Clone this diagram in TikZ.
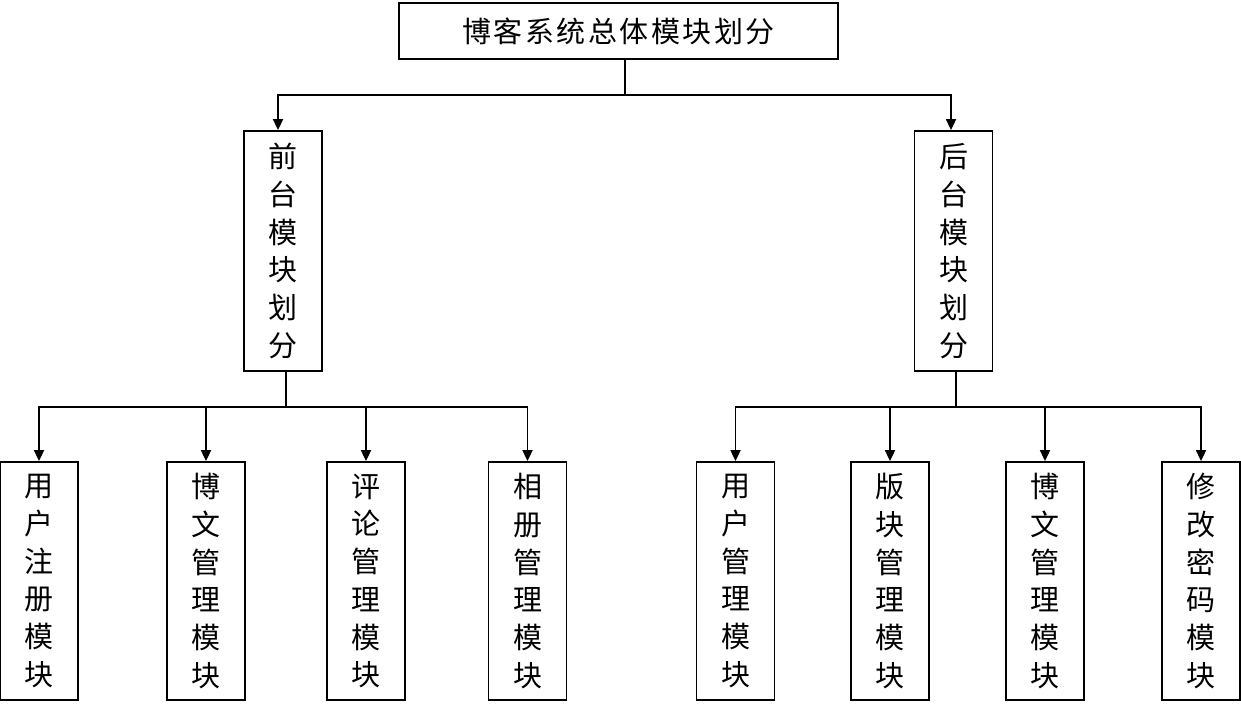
\documentclass[tikz,border=0pt]{standalone}
\usepackage{fontspec}
\setmainfont{Noto Sans CJK SC}
\usetikzlibrary{arrows.meta}
\tikzset{
  box/.style={draw, line width=1.8pt, inner sep=0pt, align=center,
    font=\fontsize{29}{37.7}\selectfont},
  vbox/.style={box, minimum width=78pt},
  conn/.style={line width=1.8pt},
  arr/.style={conn, -{Triangle[width=10pt,length=11pt]}}
}
\begin{document}
\begin{tikzpicture}[x=1pt,y=-1pt]
\useasboundingbox (0,0) rectangle (1241,708);
\node[box, minimum width=439pt, minimum height=56pt] (top) at (618.5,31)
  {博\kern2.5pt 客\kern2.5pt 系\kern2.5pt 统\kern2.5pt 总\kern2.5pt 体\kern2.5pt 模\kern2.5pt 块\kern2.5pt 划\kern2.5pt 分};
\node[vbox, minimum height=240pt] (ml) at (283,251) {前\\台\\模\\块\\划\\分};
\node[vbox, minimum height=240pt] (mr) at (953.5,251) {后\\台\\模\\块\\划\\分};
\node[vbox, minimum height=238pt] (b1) at (39,581) {用\\户\\注\\册\\模\\块};
\node[vbox, minimum height=238pt] (b2) at (206,581) {博\\文\\管\\理\\模\\块};
\node[vbox, minimum height=238pt] (b3) at (366,581) {评\\论\\管\\理\\模\\块};
\node[vbox, minimum height=238pt] (b4) at (527.5,581) {相\\册\\管\\理\\模\\块};
\node[vbox, minimum height=238pt] (b5) at (735.5,581) {用\\户\\管\\理\\模\\块};
\node[vbox, minimum height=238pt] (b6) at (890,581) {版\\块\\管\\理\\模\\块};
\node[vbox, minimum height=238pt] (b7) at (1045,581) {博\\文\\管\\理\\模\\块};
\node[vbox, minimum height=238pt] (b8) at (1201,581) {修\\改\\密\\码\\模\\块};
% top level
\coordinate (tj) at ([xshift=6.5pt]top.south);
\coordinate (th) at (625,95);
\draw[conn] (tj) -- (th);
\draw[arr] (th) -| ([xshift=-5pt]ml.north);
\draw[arr] (th) -| ([xshift=-2.5pt]mr.north);
% left group
\coordinate (lj) at ([xshift=3pt]ml.south);
\coordinate (lh) at (286,407);
\draw[conn] (lj) -- (lh);
\foreach \b in {b1,b2,b3,b4} \draw[arr] (lh) -| (\b.north);
% right group
\coordinate (rj) at ([xshift=2.5pt]mr.south);
\coordinate (rh) at (956,407);
\draw[conn] (rj) -- (rh);
\foreach \b in {b5,b6,b7,b8} \draw[arr] (rh) -| (\b.north);
\end{tikzpicture}
\end{document}
